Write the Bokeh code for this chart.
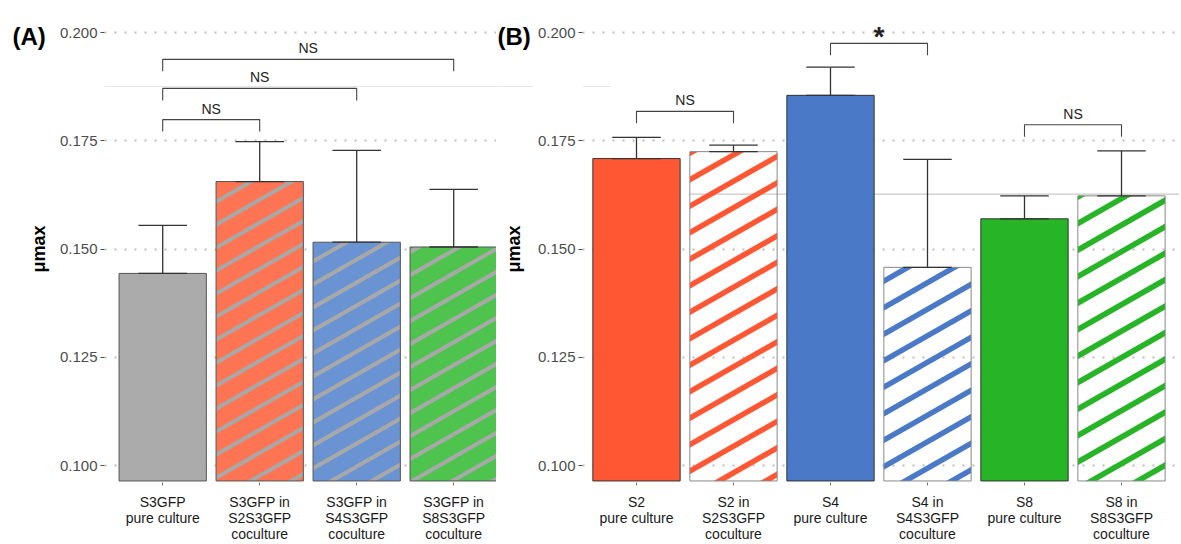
import math
import numpy as np
from bokeh.plotting import figure
from bokeh.models import ColumnDataSource, Range1d, FixedTicker, PrintfTickFormatter, Label
from bokeh.layouts import row
from bokeh.embed import file_html
from bokeh.resources import INLINE
from bokeh.core.properties import value

FONT = "Liberation Sans"

# ---------------- data ----------------
A_LABELS = ["S3GFP\npure culture", "S3GFP in\nS2S3GFP\ncoculture",
            "S3GFP in\nS4S3GFP\ncoculture", "S3GFP in\nS8S3GFP\ncoculture"]
A_MEAN = [0.1444, 0.1656, 0.1516, 0.1505]
A_SD = [0.0111, 0.0092, 0.0212, 0.0133]
A_FILL = ["#ABABAB", "#FF7452", "#6A93D3", "#4EC34E"]
A_HATCHED = [False, True, True, True]
A_BR_FROM = [0, 0, 0]
A_BR_TO = [1, 2, 3]
A_BR_Y = [0.1799, 0.1871, 0.1938]
A_BR_TEXT = ["NS", "NS", "NS"]

B_LABELS = ["S2\npure culture", "S2 in\nS2S3GFP\ncoculture",
            "S4\npure culture", "S4 in\nS4S3GFP\ncoculture",
            "S8\npure culture", "S8 in\nS8S3GFP\ncoculture"]
B_MEAN = [0.1709, 0.1725, 0.1855, 0.1458, 0.1570, 0.1623]
B_SD = [0.0049, 0.0015, 0.0065, 0.0249, 0.0053, 0.0104]
B_COLOR = ["#FF5733", "#FF5733", "#4A7AC7", "#4A7AC7", "#27B427", "#27B427"]
B_HATCHED = [False, True, False, True, False, True]
B_BR_FROM = [0, 2, 4]
B_BR_TO = [1, 3, 5]
B_BR_Y = [0.1818, 0.1975, 0.1787]
B_BR_TEXT = ["NS", "*", "NS"]

Y_TICKS = [0.100, 0.125, 0.150, 0.175, 0.200]
Y_TITLE = "μmax"
PANEL_LETTERS = ["(A)", "(B)"]
Y_BASE = 0.0965

# faint scan lines present in the source image
A_SCAN_Y = 0.18754
B_SCAN_Y = 0.1627

# ---------------- layout ----------------
H = 544
BT, BB = 14, 62
FRAME_H = H - BT - BB
PXY = 4333.0                      # pixels per y unit
Y_END = 0.200 + 18 / PXY
Y_RANGE = (Y_END - FRAME_H / PXY, Y_END)
SLOT = 97.0
BAR_W = 0.9
CAP = 0.25
LEG = 12 / PXY
SLOPE = 0.57


def clip_poly(pts, u0, u1, v0, v1):
    def edge(points, inside, inter):
        out = []
        for i in range(len(points)):
            cur, prev = points[i], points[i - 1]
            if inside(cur):
                if not inside(prev):
                    out.append(inter(prev, cur))
                out.append(cur)
            elif inside(prev):
                out.append(inter(prev, cur))
        return out

    def iu(a):
        return lambda p, q: (a, p[1] + (q[1] - p[1]) * (a - p[0]) / (q[0] - p[0]))

    def iv(b):
        return lambda p, q: (p[0] + (q[0] - p[0]) * (b - p[1]) / (q[1] - p[1]), b)

    for inside, inter in [(lambda p: p[0] >= u0, iu(u0)), (lambda p: p[0] <= u1, iu(u1)),
                          (lambda p: p[1] >= v0, iv(v0)), (lambda p: p[1] <= v1, iv(v1))]:
        if not pts:
            break
        pts = edge(pts, inside, inter)
    return pts


def stripe_patches(xc, top, bottom, period, thick):
    """diagonal stripe bands inside one bar, computed in pixel space"""
    u0, u1 = (xc - BAR_W / 2) * SLOT, (xc + BAR_W / 2) * SLOT
    v0, v1 = bottom * PXY, top * PXY
    h = thick * math.sqrt(1 + SLOPE ** 2)
    k0 = math.floor((v0 - SLOPE * u1 - h) / period)
    k1 = math.ceil((v1 - SLOPE * u0 + h) / period)
    xs, ys = [], []
    for k in range(k0, k1 + 1):
        c = k * period
        a, b = u0 - 5, u1 + 5
        band = [(a, SLOPE * a + c - h / 2), (b, SLOPE * b + c - h / 2),
                (b, SLOPE * b + c + h / 2), (a, SLOPE * a + c + h / 2)]
        cl = clip_poly(band, u0, u1, v0, v1)
        if len(cl) >= 3:
            xs.append([p[0] / SLOT for p in cl])
            ys.append([p[1] / PXY for p in cl])
    return xs, ys


def panel(width, bl, br, x_start, labels, means, sds, fills, lines, hatched,
          hatch_colors, fill_alpha, period, thick, br_from, br_to, br_y, br_text):
    n = len(means)
    x_end = x_start + (width - bl - br) / SLOT
    p = figure(width=width, height=H, x_range=Range1d(x_start, x_end),
               y_range=Range1d(*Y_RANGE), output_backend="svg", toolbar_location=None,
               min_border_left=bl, min_border_right=br, min_border_top=BT,
               min_border_bottom=BB)
    p.outline_line_color = None
    p.background_fill_color = "white"
    p.border_fill_color = "white"
    p.xgrid.visible = False
    p.ygrid.ticker = FixedTicker(ticks=Y_TICKS)
    p.ygrid.grid_line_color = "#BDBDBD"
    p.ygrid.grid_line_dash = "2 8"
    p.ygrid.grid_line_width = 2

    ya = p.yaxis[0]
    ya.ticker = FixedTicker(ticks=Y_TICKS)
    ya.formatter = PrintfTickFormatter(format="%.3f")
    ya.axis_line_color = None
    ya.major_tick_in = 0
    ya.major_tick_out = 4
    ya.major_tick_line_color = "#4D4D4D"
    ya.minor_tick_line_color = None
    ya.major_label_standoff = 3
    ya.major_label_text_font = FONT
    ya.major_label_text_font_size = "15px"
    ya.major_label_text_color = "#4D4D4D"

    xa = p.xaxis[0]
    xa.ticker = FixedTicker(ticks=list(range(n)))
    xa.major_label_overrides = {i: labels[i] for i in range(n)}
    xa.axis_line_color = None
    xa.major_tick_in = 0
    xa.major_tick_out = 3
    xa.major_tick_line_color = "#777777"
    xa.minor_tick_line_color = None
    xa.major_label_text_font = FONT
    xa.major_label_text_font_size = "14px"
    xa.major_label_text_color = "#1A1A1A"
    xa.major_label_text_line_height = 1.0
    xa.major_label_standoff = 8

    xs = np.arange(n, dtype=float)
    means = np.array(means)
    sds = np.array(sds)
    tops = means + sds

    src = ColumnDataSource(dict(x=xs, top=means, fill=fills, line=lines,
                                alpha=[fill_alpha if h else 1.0 for h in hatched]))
    p.vbar(x="x", top="top", bottom=Y_BASE, width=BAR_W, source=src,
           fill_color="fill", fill_alpha="alpha", line_color=None)
    sx, sy, sc = [], [], []
    for i in range(n):
        if hatched[i]:
            a, b = stripe_patches(xs[i], means[i], Y_BASE, period, thick)
            sx += a
            sy += b
            sc += [hatch_colors[i]] * len(a)
    p.patches(xs=sx, ys=sy, fill_color=sc, line_color=None)
    p.vbar(x="x", top="top", bottom=Y_BASE, width=BAR_W, source=src,
           fill_color=None, line_color="line", line_width=1)

    ec = "#333333"
    p.segment(x0=xs, y0=means, x1=xs, y1=tops, line_color=ec, line_width=1.3)
    p.segment(x0=xs - CAP, y0=tops, x1=xs + CAP, y1=tops, line_color=ec, line_width=1.3)
    p.segment(x0=xs - CAP, y0=means, x1=xs + CAP, y1=means, line_color=ec, line_width=1.3)

    bxs, bys = [], []
    for a, b, y in zip(br_from, br_to, br_y):
        bxs.append([a, a, b, b])
        bys.append([y - LEG, y, y, y - LEG])
    p.multi_line(xs=bxs, ys=bys, line_color="#444444", line_width=1.1)
    for a, b, y, t in zip(br_from, br_to, br_y, br_text):
        if t == "*":
            p.add_layout(Label(x=(a + b) / 2, y=y + 7 / PXY, text=t, text_align="center",
                               text_baseline="alphabetic", text_font=FONT,
                               text_font_size="28px", text_font_style="bold",
                               text_color="#222222"))
        else:
            p.add_layout(Label(x=(a + b) / 2, y=y + 11 / PXY, text=t, text_align="center",
                               text_baseline="alphabetic", text_font=FONT,
                               text_font_size="14px", text_color="#222222"))
    return p, x_start, x_end


def side_strip(width, letter, letter_x, title_x, scan=False):
    """narrow strip left of a panel holding its letter and y-axis title.
    Its frame is aligned with the panels' frames (page y 14..482), so the
    y range maps data = H - page_y."""
    s = figure(width=width, height=H, x_range=Range1d(0, width),
               y_range=Range1d(H - (H - BB), H - BT),
               output_backend="svg", toolbar_location=None, x_axis_type=None,
               y_axis_type=None, min_border=0)
    s.outline_line_color = None
    s.grid.visible = False
    if scan:
        s.line(x=[0, width], y=[H - 86, H - 86], line_color="#E6E6E6", line_width=1)
    s.text(x=[letter_x], y=[H - 36], text=[letter], text_font=value(FONT),
           text_font_size="24px", text_font_style="bold", text_color="black",
           text_align="left", text_baseline="alphabetic")
    s.text(x=[title_x], y=[H - 272], text=[Y_TITLE], text_font=value(FONT),
           text_font_size="18px", text_font_style="bold", text_color="black",
           text_align="left", text_baseline="alphabetic", angle=math.pi / 2)
    return s


sA = side_strip(54, PANEL_LETTERS[0], 12, 38)
pA, ax0, ax1 = panel(442, 50, 0, -0.6, A_LABELS, A_MEAN, A_SD, A_FILL,
                     ["#555555"] * 4, A_HATCHED, ["#A8A8A8"] * 4, 1.0, 23, 4,
                     A_BR_FROM, A_BR_TO, A_BR_Y, A_BR_TEXT)
pA.line(x=[ax0, ax1], y=[A_SCAN_Y, A_SCAN_Y], line_color="#E6E6E6", line_width=1)

sB = side_strip(37, PANEL_LETTERS[1], 1, 17, scan=True)
B_FILL = [c if not h else "white" for c, h in zip(B_COLOR, B_HATCHED)]
B_LINE = ["#333333" if not h else "#888888" for h in B_HATCHED]
pB, bx0, bx1 = panel(648, 49, 2, -0.5567, B_LABELS, B_MEAN, B_SD, B_FILL, B_LINE,
                     B_HATCHED, B_COLOR, 0.0, 26.5, 5.5,
                     B_BR_FROM, B_BR_TO, B_BR_Y, B_BR_TEXT)
pB.line(x=[1 - BAR_W / 2, bx1], y=[B_SCAN_Y, B_SCAN_Y], line_color="#BDBDBD",
        line_width=1, level="underlay")
pB.line(x=[bx0, bx0 + 28 / SLOT], y=[A_SCAN_Y, A_SCAN_Y], line_color="#E6E6E6",
        line_width=1, level="underlay")

layout = row(sA, pA, sB, pB)
open("out.html", "w").write(file_html(layout, INLINE))
